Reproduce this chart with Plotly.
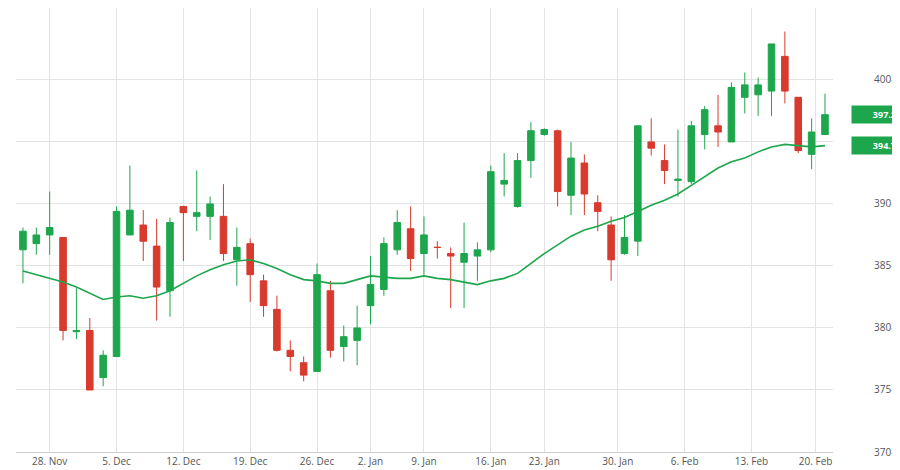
import plotly.graph_objects as go

opens  = [386.3,386.8,387.5,387.3,379.7,379.8,376.0,377.7,387.5,388.3,386.6,383.0,389.8,389.0,389.0,389.0,385.5,386.8,383.8,381.5,378.2,377.2,
          376.5,383.0,378.5,379.0,381.8,383.1,386.3,388.0,386.0,386.5,386.0,385.3,385.8,386.3,391.6,389.8,393.5,395.6,395.9,390.7,393.3,
          390.1,388.3,386.0,387.0,395.0,393.5,391.9,391.8,395.6,396.3,395.0,398.6,398.8,399.1,401.9,398.6,394.0,395.6]
highs  = [388.1,388.1,391.0,387.3,383.2,380.8,378.2,389.8,393.1,389.5,388.8,388.9,389.8,392.7,390.6,391.6,388.1,387.2,384.3,382.6,379.0,377.7,
          385.2,383.8,380.2,381.8,385.8,387.3,389.5,389.8,389.0,387.0,386.5,388.5,386.9,393.1,394.1,394.1,396.6,396.1,396.0,395.0,394.0,
          390.7,389.0,389.1,396.3,396.9,394.8,396.0,396.7,397.9,398.8,399.8,400.6,400.2,402.9,403.9,398.6,396.9,398.9]
lows   = [383.6,385.9,385.9,379.0,379.1,375.0,375.3,377.7,387.5,385.4,380.6,380.9,385.4,387.8,387.1,385.4,383.4,382.1,380.9,378.1,376.5,375.7,
          376.5,377.6,377.3,377.0,380.3,382.6,385.9,384.6,384.3,385.6,381.6,381.6,383.8,386.1,390.6,389.7,392.1,395.5,389.8,389.1,389.1,
          387.8,383.8,385.9,385.8,393.9,391.6,390.6,391.6,394.4,394.6,395.0,397.3,397.1,397.1,398.1,394.1,392.8,395.6]
closes = [387.8,387.5,388.1,379.8,379.8,375.0,377.8,389.4,389.5,387.0,383.3,388.5,389.3,389.3,390.0,386.0,386.5,384.3,381.8,378.2,377.7,376.2,
          384.3,378.2,379.3,380.0,383.5,386.8,388.5,385.6,387.5,386.5,385.8,386.0,386.3,392.6,391.9,393.5,395.9,396.0,391.0,393.7,390.8,
          389.4,385.5,387.3,396.3,394.5,392.7,392.0,396.3,397.6,395.8,399.4,399.6,399.6,402.9,399.1,394.3,395.8,397.2]
ma     = [384.6,384.3,384.0,383.7,383.3,382.8,382.3,382.5,382.6,382.4,382.6,383.0,383.6,384.2,384.7,385.1,385.4,385.5,385.2,384.8,384.3,383.9,
          383.8,383.6,383.6,383.9,384.2,384.1,384.0,384.0,384.2,384.0,383.9,383.7,383.5,383.8,384.0,384.4,385.2,386.0,386.7,387.4,387.9,
          388.2,388.6,388.9,389.4,389.9,390.3,390.8,391.5,392.2,392.9,393.4,393.7,394.2,394.6,394.8,394.7,394.6,394.7]
tick_pos = [2, 7, 12, 17, 22, 26, 30, 35, 39, 44.5, 49.5, 54.5, 59.3]
tick_labels = ["28. Nov","5. Dec","12. Dec","19. Dec","26. Dec","2. Jan","9. Jan","16. Jan","23. Jan",
               "30. Jan","6. Feb","13. Feb","20. Feb"]
y_ticks = [370,375,380,385,390,395,400]
y_labels = ["370-0","375-0","380-0","385-0","390-0","395-0","400-0"]

GREEN = "#1da64c"; RED = "#d83a2e"
x = list(range(len(closes)))
fig = go.Figure()
fig.add_trace(go.Candlestick(x=x, open=opens, high=highs, low=lows, close=closes,
    increasing=dict(line=dict(color=GREEN, width=1), fillcolor=GREEN),
    decreasing=dict(line=dict(color=RED, width=1), fillcolor=RED),
    whiskerwidth=0, showlegend=False, hoverinfo="skip"))
fig.add_trace(go.Scatter(x=x, y=ma, mode="lines", line=dict(color=GREEN, width=1.6), showlegend=False))

for v in [closes[-1], ma[-1]]:
    fig.add_annotation(xref="paper", yref="y", x=1.022, y=v, xanchor="left", text="<b>%.1f</b>" % v,
        showarrow=False, bgcolor=GREEN, font=dict(color="white", size=9, family="Open Sans"),
        borderpad=2, width=42, align="right")

fig.update_layout(width=900, height=470, margin=dict(l=8, r=75, t=0, b=26, autoexpand=False),
    plot_bgcolor="white", paper_bgcolor="white", font=dict(family="Open Sans", color="#555", size=10),
    xaxis=dict(range=[-0.52, 60.6], tickvals=tick_pos, ticktext=tick_labels, showgrid=True, gridcolor="#e3e3e3",
               rangeslider=dict(visible=False), showline=True, linecolor="#ccc", zeroline=False, ticks="",
               automargin=False),
    yaxis=dict(side="right", range=[370, 405.8], tickvals=y_ticks, ticktext=y_labels, showgrid=True,
               gridcolor="#e3e3e3", zeroline=False, ticklabelstandoff=40, ticks="", automargin=False))
fig.write_html("out.html")
